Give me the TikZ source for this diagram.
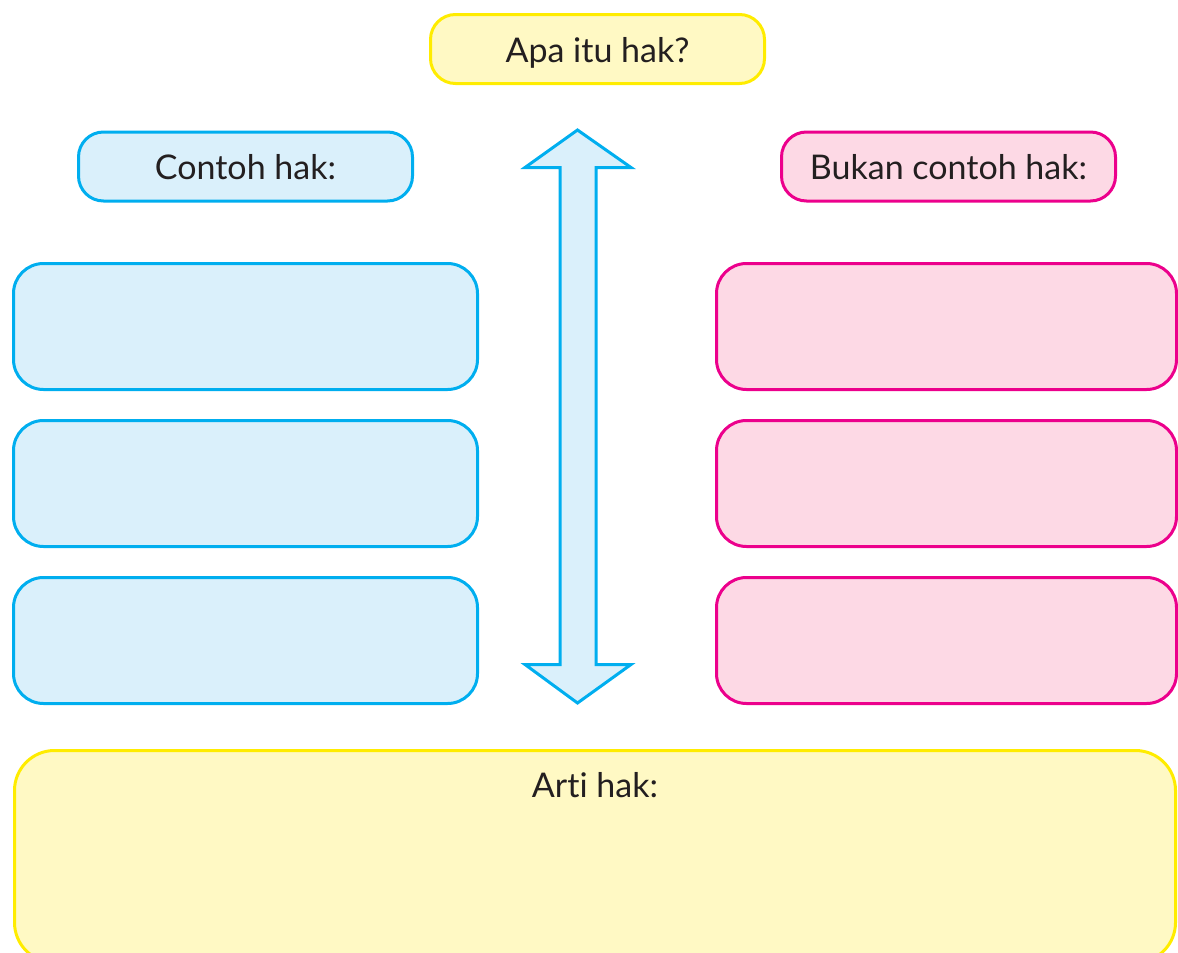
\documentclass[tikz,border=0pt]{standalone}
\usepackage{fontspec}
\setmainfont{Lato}[Ligatures=NoCommon]
\usepackage{xcolor}
\usepackage{tikz}
\usetikzlibrary{positioning}
\definecolor{hakyellow}{HTML}{FFEC00}
\definecolor{hakyellowfill}{HTML}{FFF9C4}
\definecolor{hakblue}{HTML}{00AEEF}
\definecolor{hakbluefill}{HTML}{DAF0FB}
\definecolor{hakpink}{HTML}{EC008C}
\definecolor{hakpinkfill}{HTML}{FDD9E5}
\definecolor{haktext}{HTML}{231F20}
\tikzstyle{words} = [inner sep=0pt, text depth=0pt, text height=26pt, font=\fontsize{34}{38}\selectfont, text=haktext]
\tikzstyle{tag} = [words, rectangle, draw, line width=3pt, rounded corners=25pt, minimum width=334pt, minimum height=69pt]
\tikzstyle{answer} = [rectangle, draw, line width=3pt, rounded corners=30pt, minimum width=464pt, minimum height=126pt, inner sep=0pt]
\tikzstyle{yellowbox} = [draw=hakyellow, fill=hakyellowfill]
\tikzstyle{bluebox} = [draw=hakblue, fill=hakbluefill]
\tikzstyle{pinkbox} = [draw=hakpink, fill=hakpinkfill]

\begin{document}
\begin{tikzpicture}[x=1pt, y=-1pt]
\useasboundingbox (0,0) rectangle (1178,953);
\clip (0,0) rectangle (1178,953);

\node [tag, yellowbox] (question) at (597.5,49) {Apa itu hak?};
\node [tag, bluebox] (contoh) at (245.5,166.5) {Contoh hak:};
\node [tag, pinkbox] (bukan) at (948.5,166.5) {Bukan contoh hak:};

\node [answer, bluebox] (contohA) at (245.5,326.5) {};
\node [answer, bluebox, below=28pt of contohA] (contohB) {};
\node [answer, bluebox, below=28pt of contohB] (contohC) {};
\node [answer, pinkbox, minimum width=460pt] (bukanA) at (946.5,326.5) {};
\node [answer, pinkbox, minimum width=460pt, below=28pt of bukanA] (bukanB) {};
\node [answer, pinkbox, minimum width=460pt, below=28pt of bukanB] (bukanC) {};

% double arrow between the two columns
\draw [bluebox, line width=3pt, line join=miter]
  (577.5,130) -- (525,167.5) -- (560,167.5) -- (560,664.5) -- (525,664.5)
  -- (577.5,703) -- (631,664.5) -- (596,664.5) -- (596,167.5) -- (631,167.5) -- cycle;

\node [answer, yellowbox, rounded corners=40pt, minimum width=1161pt, minimum height=212pt] (arti) at (595,856.5) {};
\node [words] (artitext) at ([yshift=-35.5pt]arti.north) {Arti hak:};
\end{tikzpicture}
\end{document}
